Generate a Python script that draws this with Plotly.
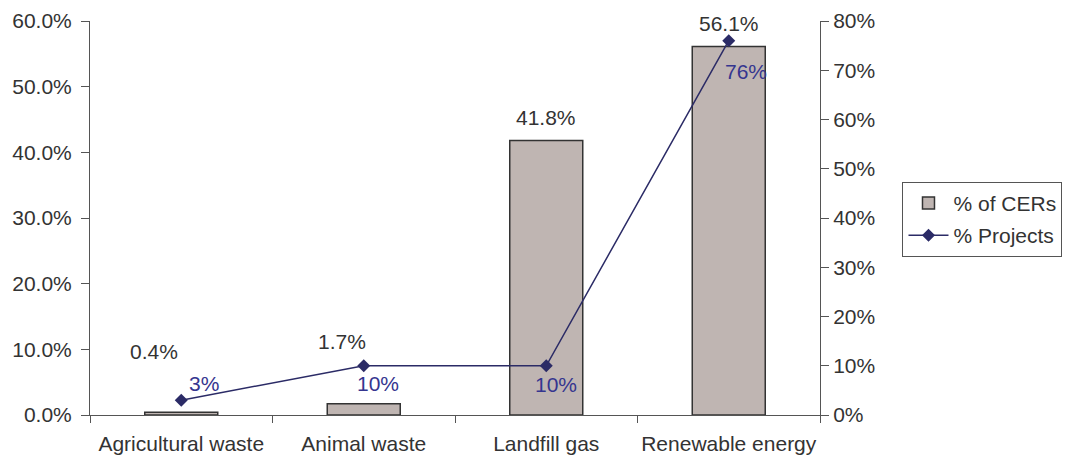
import plotly.graph_objects as go

categories = ["Agricultural waste", "Animal waste", "Landfill gas", "Renewable energy"]
cers_pct = [0.4, 1.7, 41.8, 56.1]
projects_pct = [3, 10, 10, 76]

left_ticks = [0, 10, 20, 30, 40, 50, 60]
right_ticks = [0, 10, 20, 30, 40, 50, 60, 70, 80]

# label offsets (pixels) for the data labels
cer_label_shift = [(-27, 61), (-22, 62), (0, 23), (0, 23)]
proj_label_shift = [(23, 17), (14, -18), (10, -19), (17, -31)]

FONT = "Liberation Sans, Arial, sans-serif"
FS = 21
TEXT = "#333333"
AXIS = "#555555"
LINE_COL = "#2B2B66"
LABEL_BLUE = "#35358F"

fig = go.Figure()
fig.add_trace(go.Bar(
    x=categories, y=cers_pct, name="% of CERs",
    marker=dict(color="#BFB5B2", line=dict(color="#333333", width=1.5)),
    width=0.4, yaxis="y", legendgroup="a",
))
fig.add_trace(go.Scatter(
    x=categories, y=projects_pct, name="% Projects",
    mode="lines+markers",
    line=dict(color=LINE_COL, width=1.5),
    marker=dict(symbol="diamond", size=10, color=LINE_COL),
    yaxis="y2", legendgroup="b",
))

annotations = []
for c, v, (dx, dy) in zip(categories, cers_pct, cer_label_shift):
    annotations.append(dict(
        x=c, y=v, xref="x", yref="y", text=f"{v:.1f}%", showarrow=False,
        xshift=dx, yshift=dy, font=dict(family=FONT, size=FS, color=TEXT),
    ))
for c, v, (dx, dy) in zip(categories, projects_pct, proj_label_shift):
    annotations.append(dict(
        x=c, y=v, xref="x", yref="y2", text=f"{v}%", showarrow=False,
        xshift=dx, yshift=dy, font=dict(family=FONT, size=FS, color=LABEL_BLUE),
    ))

fig.update_layout(
    width=1076, height=462,
    margin=dict(l=90, r=256, t=21, b=47),
    paper_bgcolor="white", plot_bgcolor="white",
    font=dict(family=FONT, size=FS, color=TEXT),
    showlegend=True,
    legend=dict(
        x=1.113, y=0.592, xanchor="left", yanchor="top",
        bordercolor=AXIS, borderwidth=1,
        font=dict(family=FONT, size=FS, color=TEXT),
        traceorder="grouped", tracegroupgap=2, itemwidth=40,
    ),
    xaxis=dict(
        showline=True, linecolor=AXIS, linewidth=1,
        ticks="outside", ticklen=7, tickcolor=AXIS,
        tickson="boundaries", showgrid=False,
        tickangle=0, automargin=False, ticklabelstandoff=10,
        tickfont=dict(size=FS, color=TEXT),
    ),
    yaxis=dict(
        range=[0, 60], tickvals=left_ticks,
        ticktext=[f"{t:.1f}%" for t in left_ticks],
        showline=True, linecolor=AXIS, linewidth=1,
        ticks="outside", ticklen=8, tickcolor=AXIS,
        showgrid=False, zeroline=False, automargin=False,
        ticklabelstandoff=5,
        tickfont=dict(size=FS, color=TEXT),
    ),
    yaxis2=dict(
        range=[0, 80], tickvals=right_ticks,
        ticktext=[f"{t}%" for t in right_ticks],
        overlaying="y", side="right",
        showline=True, linecolor=AXIS, linewidth=1,
        ticks="outside", ticklen=8, tickcolor=AXIS,
        showgrid=False, zeroline=False, automargin=False,
        tickfont=dict(size=FS, color=TEXT),
    ),
    # inner halves of the crossing tick marks
    yaxis3=dict(
        range=[0, 60], tickvals=left_ticks, overlaying="y", side="left",
        showticklabels=False, ticks="inside", ticklen=7, tickcolor=AXIS,
        showline=False, showgrid=False, zeroline=False, automargin=False,
    ),
    yaxis4=dict(
        range=[0, 80], tickvals=right_ticks, overlaying="y", side="right",
        showticklabels=False, ticks="inside", ticklen=7, tickcolor=AXIS,
        showline=False, showgrid=False, zeroline=False, automargin=False,
    ),
    annotations=annotations,
    bargap=0.6,
)

fig.write_html("out.html")
